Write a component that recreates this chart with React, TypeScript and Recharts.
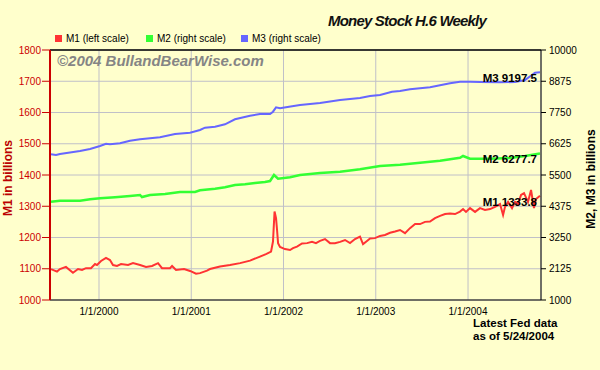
import React from 'react';
import { LineChart, Line, XAxis, YAxis, CartesianGrid, ReferenceLine } from 'recharts';

// time is in fractional years on the chart's own scale
const m1Time = [
  1999.48, 1999.545, 1999.577, 1999.642, 1999.718, 1999.773, 1999.816, 1999.859, 1999.913, 1999.957,
  1999.978, 2000.022, 2000.076, 2000.119, 2000.152, 2000.195, 2000.239, 2000.315, 2000.369, 2000.445,
  2000.51, 2000.575, 2000.64, 2000.683, 2000.77, 2000.792, 2000.835, 2000.922, 2000.987, 2001.052,
  2001.095, 2001.171, 2001.203, 2001.312, 2001.42, 2001.529, 2001.637, 2001.745, 2001.81, 2001.865,
  2001.886, 2001.903, 2001.919, 2001.93, 2001.941, 2001.962, 2002.016, 2002.071, 2002.103, 2002.146,
  2002.201, 2002.255, 2002.309, 2002.352, 2002.396, 2002.45, 2002.504, 2002.558, 2002.613, 2002.667,
  2002.721, 2002.775, 2002.829, 2002.862, 2002.905, 2002.938, 2002.992, 2003.046, 2003.1, 2003.155,
  2003.209, 2003.263, 2003.317, 2003.371, 2003.426, 2003.48, 2003.534, 2003.588, 2003.642, 2003.697,
  2003.751, 2003.805, 2003.859, 2003.913, 2003.946, 2003.978, 2004.022, 2004.076, 2004.13, 2004.184,
  2004.239, 2004.293, 2004.347, 2004.38, 2004.401, 2004.434, 2004.477, 2004.51, 2004.542, 2004.575,
  2004.607, 2004.65, 2004.683, 2004.715, 2004.737, 2004.78,
];
const m1Values = [
  1099, 1091, 1099, 1106, 1087, 1099, 1096, 1102, 1102, 1115,
  1112, 1125, 1135, 1128, 1112, 1109, 1115, 1112, 1118, 1112,
  1106, 1109, 1118, 1102, 1102, 1109, 1096, 1099, 1093, 1084,
  1086, 1094, 1099, 1107, 1112, 1118, 1126, 1139, 1147, 1155,
  1187, 1283, 1262, 1224, 1182, 1170, 1163, 1160, 1166, 1171,
  1181, 1182, 1186, 1182, 1189, 1195, 1182, 1182, 1186, 1192,
  1182, 1195, 1203, 1179, 1189, 1197, 1198, 1205, 1208, 1215,
  1219, 1224, 1214, 1230, 1243, 1243, 1250, 1251, 1262, 1269,
  1275, 1277, 1275, 1283, 1291, 1282, 1294, 1282, 1294, 1288,
  1291, 1298, 1307, 1272, 1298, 1314, 1294, 1314, 1307, 1336,
  1342, 1314, 1352, 1294, 1323, 1333.8,
];

const m2Time = [
  1999.48, 1999.577, 1999.794, 1999.903, 2000.011, 2000.174, 2000.336, 2000.445, 2000.466, 2000.553,
  2000.716, 2000.878, 2001.041, 2001.095, 2001.258, 2001.366, 2001.474, 2001.583, 2001.691, 2001.799,
  2001.854, 2001.897, 2001.941, 2002.071, 2002.179, 2002.396, 2002.613, 2002.829, 2003.046, 2003.263,
  2003.48, 2003.697, 2003.913, 2003.946, 2004.022, 2004.239, 2004.455, 2004.618, 2004.78,
];
const m2Values = [
  4539, 4575, 4575, 4625, 4661, 4697, 4744, 4780, 4708, 4780,
  4816, 4888, 4888, 4949, 5007, 5057, 5140, 5165, 5212, 5248,
  5284, 5500, 5367, 5420, 5500, 5572, 5619, 5705, 5824, 5871,
  5943, 6015, 6120, 6184, 6087, 6087, 6112, 6184, 6277.7,
];

const m3Time = [
  1999.48, 1999.534, 1999.577, 1999.794, 1999.903, 2000.011, 2000.076, 2000.119, 2000.228, 2000.336,
  2000.445, 2000.553, 2000.661, 2000.824, 2000.987, 2001.095, 2001.149, 2001.258, 2001.366, 2001.474,
  2001.637, 2001.745, 2001.854, 2001.886, 2001.919, 2001.962, 2002.06, 2002.179, 2002.396, 2002.613,
  2002.829, 2002.938, 2003.046, 2003.176, 2003.263, 2003.371, 2003.588, 2003.805, 2003.913, 2004.022,
  2004.13, 2004.347, 2004.51, 2004.618, 2004.726, 2004.78,
];
const m3Values = [
  6245, 6220, 6256, 6364, 6436, 6544, 6627, 6605, 6641, 6734,
  6785, 6821, 6857, 6976, 7023, 7120, 7203, 7239, 7325, 7505,
  7635, 7696, 7696, 7779, 7937, 7901, 7959, 8020, 8092, 8200,
  8272, 8344, 8380, 8500, 8524, 8585, 8657, 8801, 8860, 8860,
  8848, 8837, 8848, 8920, 9183, 9197.5,
];

const yearTicks = [2000, 2001, 2002, 2003, 2004];
const leftTicks = [1000, 1100, 1200, 1300, 1400, 1500, 1600, 1700, 1800];
const rightTicks = [1000, 2125, 3250, 4375, 5500, 6625, 7750, 8875, 10000];

const toPoints = (t: number[], v: number[]) => t.map((x, i) => ({ t: x, v: v[i] }));
const m1Data = toPoints(m1Time, m1Values);
const m2Data = toPoints(m2Time, m2Values);
const m3Data = toPoints(m3Time, m3Values);

const FONT = 'Arial, "Liberation Sans", sans-serif';

const endLabel = (name: string, count: number) => (props: any) => {
  const { x, y, index, value } = props;
  if (index !== count - 1) return null;
  return (
    <text
      key={name}
      x={x - 3}
      y={y + 7}
      textAnchor="end"
      dominantBaseline="middle"
      fontSize={11.5}
      fontWeight="bold"
      fontFamily={FONT}
      fill="#000"
    >
      {`${name} ${value}`}
    </text>
  );
};

const legendItems = [
  { label: 'M1 (left scale)', color: '#ff3333', left: 55 },
  { label: 'M2 (right scale)', color: '#33ff33', left: 146 },
  { label: 'M3 (right scale)', color: '#6666ff', left: 241 },
];

const App: React.FC = () => (
  <div
    style={{
      position: 'absolute',
      left: 0,
      top: 0,
      width: 600,
      height: 370,
      background: '#ffffcc',
      fontFamily: FONT,
      overflow: 'hidden',
    }}
  >
    <div
      style={{
        position: 'absolute',
        left: 328,
        top: 12,
        fontSize: 15,
        fontWeight: 'bold',
        fontStyle: 'italic',
        letterSpacing: -0.8,
        color: '#111',
        whiteSpace: 'nowrap',
      }}
    >
      Money Stock H.6 Weekly
    </div>

    {legendItems.map((item) => (
      <div key={item.label} style={{ position: 'absolute', left: item.left, top: 32, height: 12, display: 'flex', alignItems: 'center', whiteSpace: 'nowrap' }}>
        <span style={{ display: 'inline-block', width: 7, height: 7, background: item.color, marginRight: 4 }} />
        <span style={{ fontSize: 10, color: '#000' }}>{item.label}</span>
      </div>
    ))}

    <LineChart width={600} height={370} margin={{ top: 50, right: 0, bottom: 50, left: 0 }}>
      <CartesianGrid yAxisId="left" stroke="#c0c0c8" />
      <XAxis
        dataKey="t"
        type="number"
        domain={[1999.469, 2004.791]}
        allowDataOverflow
        ticks={yearTicks}
        tickFormatter={(v) => `1/1/${v}`}
        tickLine={false}
        axisLine={{ stroke: '#000' }}
        tick={{ fill: '#000', fontSize: 10, fontFamily: FONT }}
        height={20}
      />
      <YAxis
        yAxisId="left"
        domain={[1000, 1800]}
        ticks={leftTicks}
        allowDataOverflow
        width={50}
        tickSize={8}
        tickMargin={1}
        axisLine={{ stroke: '#cc0000', strokeWidth: 2 }}
        tickLine={{ stroke: '#cc0000' }}
        tick={{ fill: '#cc0000', fontSize: 10, fontFamily: FONT }}
      />
      <YAxis
        yAxisId="right"
        orientation="right"
        domain={[1000, 10000]}
        ticks={rightTicks}
        allowDataOverflow
        width={59}
        tickSize={5}
        tickMargin={3}
        axisLine={{ stroke: '#000' }}
        tickLine={{ stroke: '#000' }}
        tick={{ fill: '#000', fontSize: 10, fontFamily: FONT }}
      />
      <ReferenceLine yAxisId="left" y={1800} stroke="#000" strokeWidth={1.5} />
      <Line
        yAxisId="right"
        data={m3Data}
        dataKey="v"
        type="linear"
        stroke="#6666ff"
        strokeWidth={2}
        dot={false}
        activeDot={false}
        isAnimationActive={false}
        label={endLabel('M3', m3Data.length)}
      />
      <Line
        yAxisId="right"
        data={m2Data}
        dataKey="v"
        type="linear"
        stroke="#33ff33"
        strokeWidth={2.5}
        dot={false}
        activeDot={false}
        isAnimationActive={false}
        label={endLabel('M2', m2Data.length)}
      />
      <Line
        yAxisId="left"
        data={m1Data}
        dataKey="v"
        type="linear"
        stroke="#ff3333"
        strokeWidth={2}
        dot={false}
        activeDot={false}
        isAnimationActive={false}
        label={endLabel('M1', m1Data.length)}
      />
    </LineChart>

    <div
      style={{
        position: 'absolute',
        left: 57,
        top: 52,
        fontSize: 15,
        fontWeight: 'bold',
        fontStyle: 'italic',
        color: '#858585',
        whiteSpace: 'nowrap',
      }}
    >
      ©2004 BullandBearWise.com
    </div>

    <div
      style={{
        position: 'absolute',
        left: 8,
        top: 178,
        transform: 'translate(-50%, -50%) rotate(-90deg)',
        fontSize: 12,
        fontWeight: 'bold',
        color: '#bb0000',
        whiteSpace: 'nowrap',
      }}
    >
      M1 in billions
    </div>
    <div
      style={{
        position: 'absolute',
        left: 591,
        top: 179,
        transform: 'translate(-50%, -50%) rotate(-90deg)',
        fontSize: 12,
        fontWeight: 'bold',
        color: '#000',
        whiteSpace: 'nowrap',
      }}
    >
      M2, M3 in billions
    </div>

    <div
      style={{
        position: 'absolute',
        left: 473,
        top: 317,
        fontSize: 11.5,
        fontWeight: 'bold',
        lineHeight: '13px',
        color: '#000',
        whiteSpace: 'nowrap',
      }}
    >
      Latest Fed data
      <br />
      as of 5/24/2004
    </div>
  </div>
);

export default App;
